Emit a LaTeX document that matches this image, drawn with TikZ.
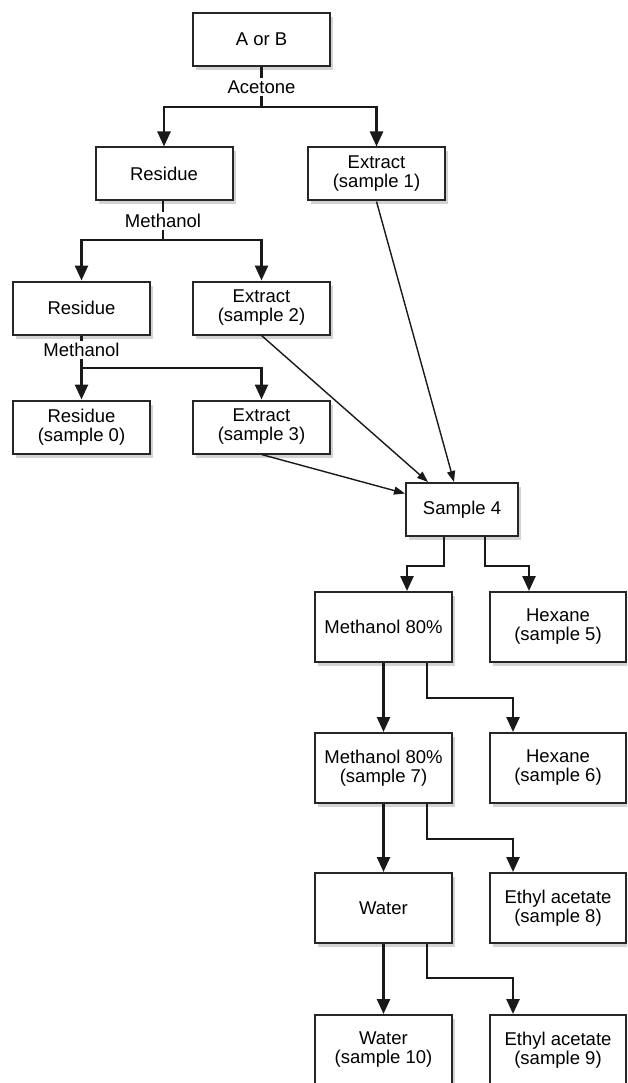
\documentclass[tikz,border=0pt]{standalone}
\usepackage{fontspec}
\setmainfont{Liberation Sans}
\usetikzlibrary{calc}
\usetikzlibrary{shadows}
\usetikzlibrary{arrows.meta}

\tikzset{
  box/.style = {draw = black!85, line width = 2pt, fill = white, align = center,
    minimum width = 137pt, minimum height = 53pt, inner sep = 1pt,
    drop shadow = {opacity = 0.35, shadow xshift = 3pt, shadow yshift = -4pt},
    font = \fontsize{18.5}{19}\selectfont},
  tallbox/.style = {box, minimum height = 70pt},
  solvent/.style = {fill = white, inner sep = 2pt, font = \fontsize{18.5}{19}\selectfont},
  link/.style = {line width = 2.5pt, black!90},
  flow/.style = {link, -{Triangle[length = 15pt, width = 13pt]}},
  pool/.style = {line width = 1.4pt, black!90, -{Triangle[length = 11pt, width = 8pt]}},
}

\begin{document}
\begin{tikzpicture}[x = 1pt, y = -1pt]
            \useasboundingbox (0, 0) rectangle (627, 1083);
            \clip (0, 0) rectangle (627, 1083);

            % extraction steps
            \node [box] (aorb) at (261.5, 39.5) {A or B};
            \node [box] (res1) at (164, 174) {Residue};
            \node [box] (ext1) at (376.5, 174) {Extract\\(sample 1)};
            \node [box] (res2) at (81.5, 308) {Residue};
            \node [box] (ext2) at (261.5, 308) {Extract\\(sample 2)};
            \node [box] (res0) at (81.5, 427) {Residue\\(sample 0)};
            \node [box] (ext3) at (261.5, 427) {Extract\\(sample 3)};
            \node [box, minimum width = 112pt] (s4) at (462, 509.5) {Sample 4};

            % partition steps
            \node [tallbox] (m80) at (383.5, 627) {Methanol 80\%};
            \node [tallbox, minimum width = 136pt] (hex5) at (558, 627) {Hexane\\(sample 5)};
            \node [tallbox] (m807) at (383.5, 768) {Methanol 80\%\\(sample 7)};
            \node [tallbox, minimum width = 136pt] (hex6) at (558, 768) {Hexane\\(sample 6)};
            \node [tallbox] (water) at (383.5, 908) {Water};
            \node [tallbox, minimum width = 136pt] (eth8) at (558, 908) {Ethyl acetate\\(sample 8)};
            \node [tallbox] (water10) at (383.5, 1050) {Water\\(sample 10)};
            \node [tallbox, minimum width = 136pt] (eth9) at (558, 1050) {Ethyl acetate\\(sample 9)};

            \node [solvent] (acetone) at (261.5, 87) {Acetone};
            \node [solvent] (meth1) at (163, 221) {Methanol};
            \node [solvent] (meth2) at (81.5, 350) {Methanol};

            \coordinate (j1) at (aorb.south |- 0, 107);
            \coordinate (j2) at (meth1.south |- 0, 240);
            \coordinate (j3) at (meth2.south |- 0, 368);

            \draw [link] (aorb) -- (acetone);
            \draw [link] (acetone) -- (j1);
            \draw [flow] (j1) -| (res1);
            \draw [flow] (j1) -| (ext1);

            \draw [link] (res1.south -| meth1) -- (meth1);
            \draw [link] (meth1) -- (j2);
            \draw [flow] (j2) -| (res2);
            \draw [flow] (j2) -| (ext2);

            \draw [link] (res2) -- (meth2);
            \draw [link] (meth2) -- (j3);
            \draw [flow] (j3) -| (res0);
            \draw [flow] (j3) -| (ext3);

            \draw [pool] (ext1.south) -- ($(s4.north) + (-8, 0)$);
            \draw [pool] (ext2.south) -- ($(s4.north) + (-34, 0)$);
            \draw [pool] (ext3.south) -- ($(s4.west) + (0, -16)$);

            \draw [flow] ($(s4.south) + (-18, 0)$) -- ++(0, 29) -| ($(m80.north) + (23.5, 0)$);
            \draw [flow] ($(s4.south) + (23, 0)$) -- ++(0, 29) -| ($(hex5.north) + (-29, 0)$);

            \draw [flow] (m80) -- (m807);
            \draw [flow] ($(m80.south) + (43.5, 0)$) -- ++(0, 35) -| ($(hex6.north) + (-45, 0)$);
            \draw [flow] (m807) -- (water);
            \draw [flow] ($(m807.south) + (43.5, 0)$) -- ++(0, 35) -| ($(eth8.north) + (-45, 0)$);
            \draw [flow] (water) -- (water10);
            \draw [flow] ($(water.south) + (43.5, 0)$) -- ++(0, 34) -| ($(eth9.north) + (-45, 0)$);
\end{tikzpicture}
\end{document}
